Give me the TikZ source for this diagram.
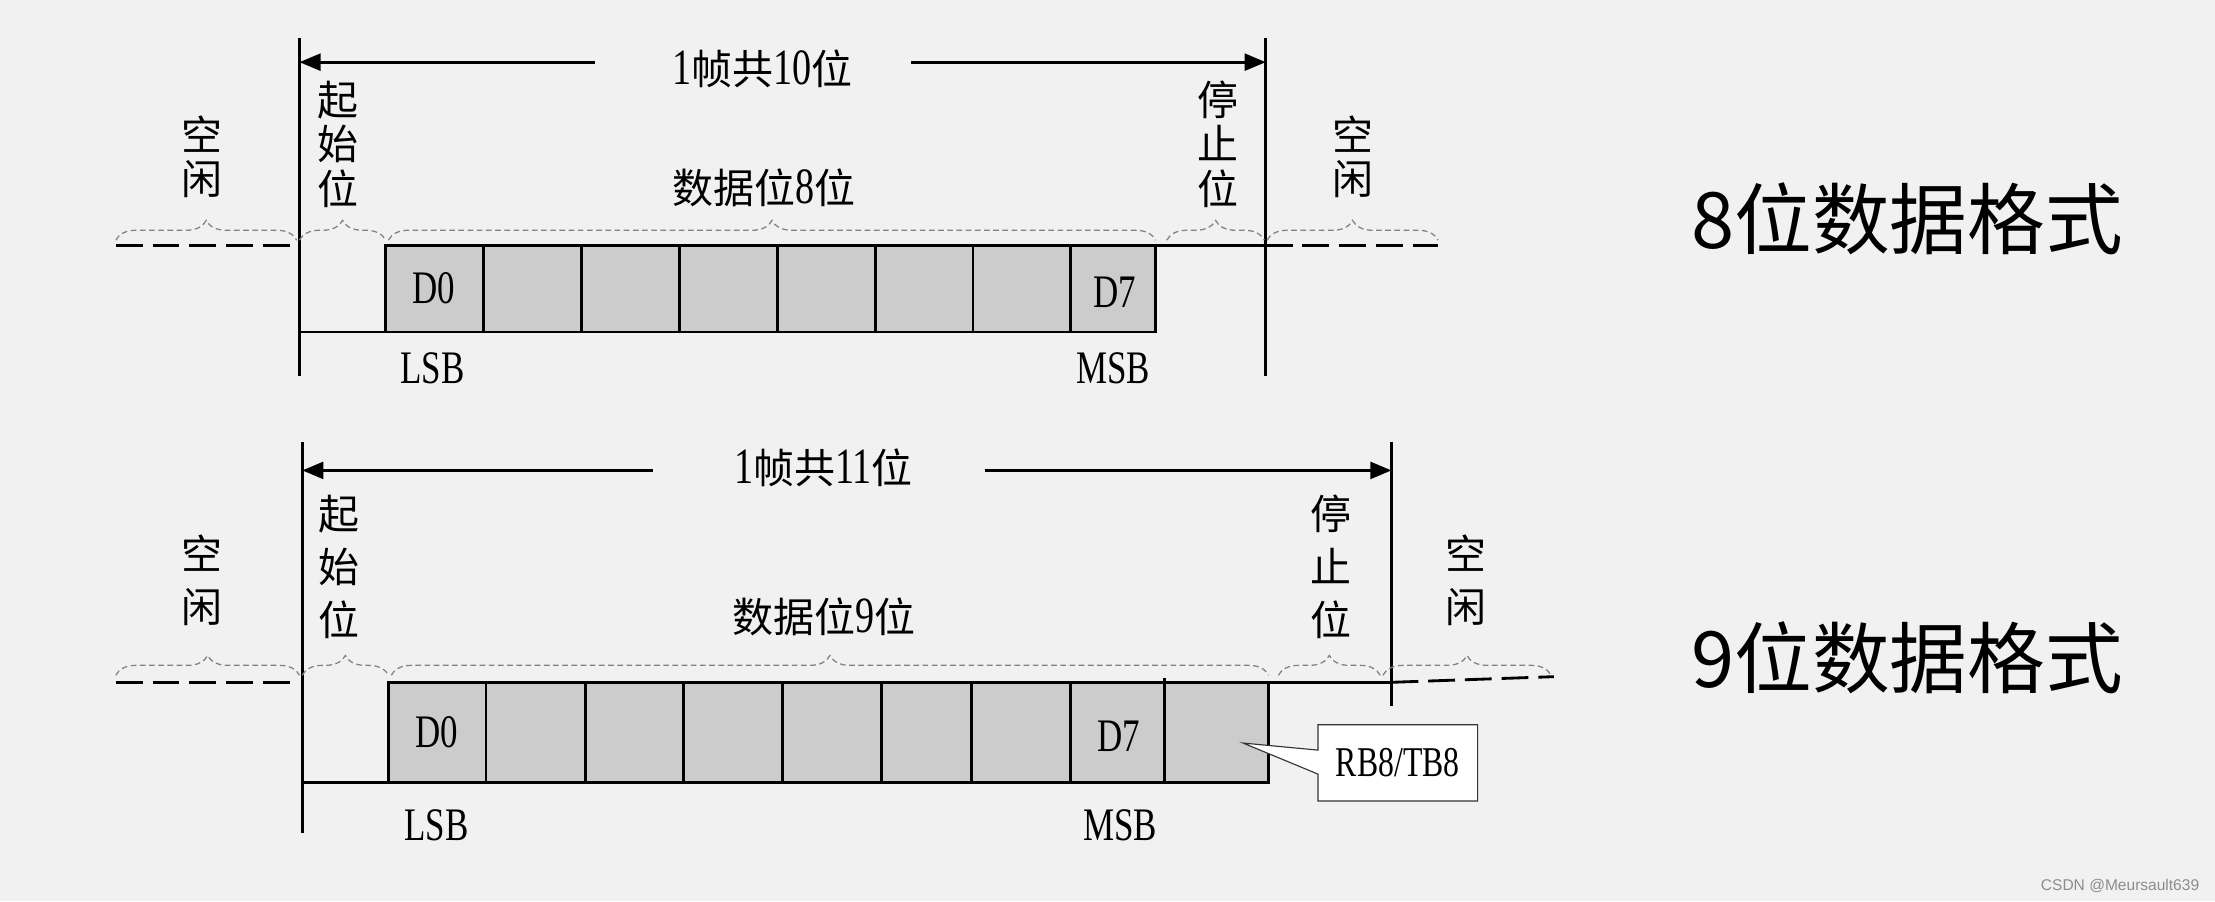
\documentclass[tikz,border=0pt]{standalone}
\usepackage{fontspec}
\setmainfont{Noto Sans CJK SC}
\newfontfamily\lat[FakeStretch=0.75]{Liberation Serif}
\newfontfamily\wmfont{Liberation Sans}
\newcommand{\dg}[1]{{\lat\fontsize{36}{38}\selectfont #1}}
\usetikzlibrary{arrows.meta,decorations.pathreplacing}
\definecolor{bgc}{RGB}{241,241,241}
\definecolor{boxc}{RGB}{204,204,204}
\definecolor{brgray}{RGB}{130,130,130}
\tikzset{
  sig/.style={line width=2pt, black},
  idle/.style={line width=2pt, black, dash pattern=on 19pt off 7pt},
  brc/.style={decorate, decoration={brace, amplitude=14pt}, draw=brgray, line width=0.9pt, dash pattern=on 4pt off 2.5pt},
  bit/.style={fill=boxc, draw=black, line width=2pt},
  arr/.style={line width=2pt, -{Triangle[length=15pt,width=12pt]}},
  cnA/.style={font=\fontsize{29}{31.5}\selectfont, inner sep=0pt, align=center},
  cnB/.style={font=\fontsize{29}{37.5}\selectfont, inner sep=0pt, align=center},
  ln/.style={font=\lat\fontsize{33}{35}\selectfont, inner sep=0pt},
  big/.style={font=\fontsize{55}{60}\selectfont, inner sep=0pt},
  callout/.style={fill=white, draw=black!80, line width=0.8pt},
}
\begin{document}
\begin{tikzpicture}[x=1pt,y=-1pt]
\fill[bgc] (0,0) rectangle (1568,638);
\useasboundingbox (0,0) rectangle (1568,638);

% ================= TOP: 8-bit format =================
\coordinate (tL0) at (212,27);  \coordinate (tL1) at (212,266);
\coordinate (tR0) at (896,27);  \coordinate (tR1) at (896,266);
\draw[sig] (tL0) -- (tL1);
\draw[sig] (tR0) -- (tR1);

\node[cnA] (tframe) at (540,49) {\dg{1}帧共\dg{10}位};
\coordinate (ta0) at (212,44); \coordinate (ta1) at (421,44);
\coordinate (tb0) at (645,44); \coordinate (tb1) at (896,44);
\draw[arr] (ta1) -- (ta0);
\draw[arr] (tb0) -- (tb1);

% idle lines
\coordinate (ti0) at (82,174); \coordinate (ti1) at (205,174);
\draw[idle] (ti0) -- (ti1);
\coordinate (tj0) at (896,174); \coordinate (tj1) at (1018,174);
\draw[idle] (tj0) -- (tj1);

% signal
\draw[sig] (212,235) -- (273,235);
\foreach \a/\b [count=\i] in {273/342.3,342.3/411.6,411.6/480.9,480.9/550.2,550.2/619.5,619.5/688.8,688.8/758,758/818}
  \draw[bit] (\a,174) rectangle (\b,235);
\draw[sig] (818,174) -- (896,174);

% braces
\draw[brc] (82,170) -- (210,170);
\draw[brc] (212,170) -- (273,170);
\draw[brc] (275,170) -- (818,170);
\draw[brc] (826,170) -- (895,170);
\draw[brc] (897,170) -- (1018,170);

% labels
\node[cnA] (tidleL) at (143,111) {空\\闲};
\node[cnA] (tstart) at (239,102) {起\\始\\位};
\node[cnA] (tdata) at (541,133) {数据位\dg{8}位};
\node[cnA] (tstop) at (862,102) {停\\止\\位};
\node[cnA] (tidleR) at (958,111) {空\\闲};
\node[ln] (td0) at (307,204) {D0};
\node[ln] (td7) at (789,207) {D7};
\node[ln] (tlsb) at (306,261) {LSB};
\node[ln] (tmsb) at (788,261) {MSB};
\node[big] (t8fmt) at (1350,155) {8位数据格式};

% ================= BOTTOM: 9-bit format =================
\coordinate (bL0) at (214,313);  \coordinate (bL1) at (214,590);
\coordinate (bR0) at (985,313);  \coordinate (bR1) at (985,500);
\draw[sig] (bL0) -- (bL1);
\draw[sig] (bR0) -- (bR1);

\node[cnA] (bframe) at (583,331) {\dg{1}帧共\dg{11}位};
\coordinate (ba0) at (214,333); \coordinate (ba1) at (462,333);
\coordinate (bb0) at (697,333); \coordinate (bb1) at (985,333);
\draw[arr] (ba1) -- (ba0);
\draw[arr] (bb0) -- (bb1);

\coordinate (bi0) at (82,483); \coordinate (bi1) at (205,483);
\draw[idle] (bi0) -- (bi1);
\coordinate (bj0) at (985,483); \coordinate (bj1) at (1100,479);
\draw[idle] (bj0) -- (bj1);

\draw[sig] (214,554) -- (275,554);
\foreach \a/\b in {275/344,344/414.5,414.5/484,484/554,554/624,624/688,688/758,758/824.5,824.5/898}
  \draw[bit] (\a,483) rectangle (\b,554);
\draw[sig] (824.5,480) -- (824.5,483);
\draw[sig] (898,483) -- (985,483);

\draw[brc] (82,478) -- (212,478);
\draw[brc] (214,478) -- (275,478);
\draw[brc] (277,478) -- (898,478);
\draw[brc] (905,478) -- (977,478);
\draw[brc] (979,478) -- (1098,478);

\node[cnB] (bidleL) at (143,411) {空\\闲};
\node[cnB] (bstart) at (240,401) {起\\始\\位};
\node[cnA] (bdata) at (583,437) {数据位\dg{9}位};
\node[cnB] (bstop) at (942,401) {停\\止\\位};
\node[cnB] (bidleR) at (1038,411) {空\\闲};
\node[ln] (bd0) at (309,518) {D0};
\node[ln] (bd7) at (792,521) {D7};
\node[ln] (blsb) at (309,584) {LSB};
\node[ln] (bmsb) at (793,584) {MSB};
\node[big] (b9fmt) at (1350,466) {9位数据格式};

% callout
\coordinate (ctip) at (880,526);
\draw[callout] (933,513) -- (1046,513) -- (1046,567) -- (933,567) -- (933,548) -- (ctip) -- (933,531) -- cycle;
\node[font=\lat\fontsize{30}{32}\selectfont, inner sep=0pt] (rb) at (989.5,540) {RB8/TB8};

% watermark
\node[font=\wmfont\fontsize{11}{12}\selectfont, text=black!45, anchor=east, inner sep=0pt] (wm) at (1557,627) {CSDN @Meursault639};
\end{tikzpicture}
\end{document}
